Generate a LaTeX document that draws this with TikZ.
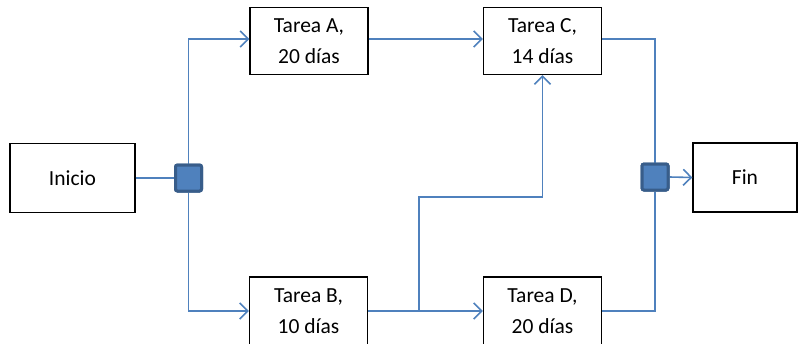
\documentclass[tikz,border=0pt]{standalone}
\usepackage{fontspec}
\setmainfont{Carlito}
\usetikzlibrary{arrows.meta}
\definecolor{lnblue}{HTML}{4F81BD}
\definecolor{sqborder}{HTML}{385D8A}
\begin{document}
\begin{tikzpicture}[x=1pt,y=-1pt,
  taskbox/.style={draw=black,line width=1.3pt,fill=white,minimum width=118pt,minimum height=67pt,inner sep=0pt,align=center,font=\fontsize{21.5}{31}\selectfont},
  junction/.style={draw=sqborder,fill=lnblue,line width=3pt,rounded corners=2pt,minimum size=26pt,inner sep=0pt},
  conn/.style={draw=lnblue,line width=1.6pt},
  arr/.style={conn,-{Straight Barb[length=8pt,width=16pt,line width=1.6pt]}}]
\useasboundingbox (0,0) rectangle (798,343);
\node[taskbox,minimum width=125pt,minimum height=69pt] (ini) at (72.5,178) {Inicio};
\node[taskbox] (A) at (309,41) {Tarea A,\\20 días};
\node[taskbox] (C) at (542.5,41) {Tarea C,\\14 días};
\node[taskbox,minimum height=68pt] (B) at (308.5,311) {Tarea B,\\10 días};
\node[taskbox,minimum height=68pt] (D) at (542.5,311) {Tarea D,\\20 días};
\node[taskbox,minimum width=104pt,minimum height=69pt] (fin) at (745,177.5) {Fin};
\node[junction] (s1) at (188.5,178) {};
\node[junction] (s2) at (655,177) {};
\coordinate (br) at (419,311);
\coordinate (bend) at (419,197);
\draw[conn] (ini.east) -- (s1.center);
\draw[arr] (s1.north) |- ([yshift=2pt]A.west);
\draw[arr] (s1.south) |- (B.west);
\draw[arr] ([yshift=2pt]A.east) -- ([yshift=2pt]C.west);
\draw[arr] (B.east) -- (D.west);
\draw[arr] (br) -- (bend) -| (C.south);
\draw[conn] ([yshift=2pt]C.east) -| (s2.north);
\draw[conn] (D.east) -| (s2.south);
\draw[arr] (s2.east) -- (fin.west);
\node[junction] at (s1) {};
\node[junction] at (s2) {};
\end{tikzpicture}
\end{document}
